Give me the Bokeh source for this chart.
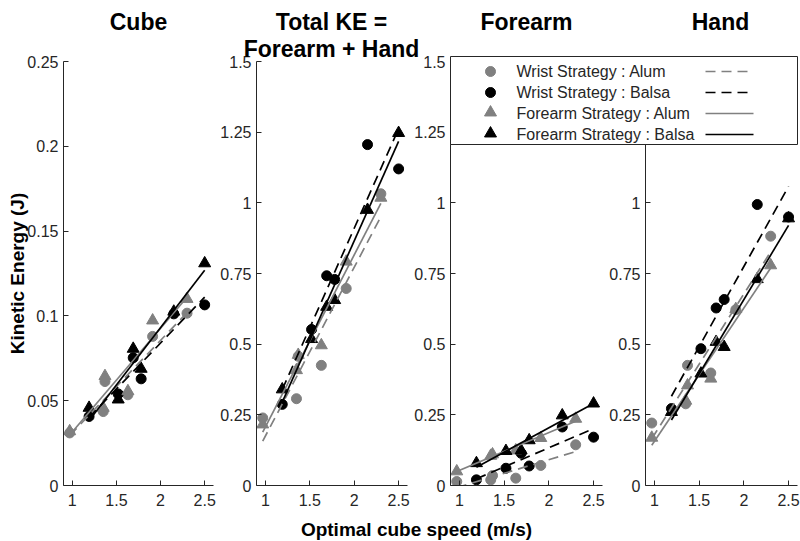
import numpy as np
from bokeh.plotting import figure
from bokeh.models import Range1d, FixedTicker, NumeralTickFormatter, GridBox
from bokeh.layouts import row
from bokeh.core.properties import value
from bokeh.embed import file_html
from bokeh.resources import INLINE

# ---------------- data ----------------
x_alum = [0.97, 1.35, 1.37, 1.63, 1.91, 2.30]
x_balsa = [1.19, 1.52, 1.69, 1.78, 2.15, 2.50]

cube_wrist_alum = [0.031, 0.0436, 0.0613, 0.0535, 0.0879, 0.1016]
cube_wrist_balsa = [0.0407, 0.0540, 0.0753, 0.0629, 0.1012, 0.1065]
cube_fore_alum = [0.032, 0.0458, 0.0645, 0.0556, 0.0973, 0.110]
cube_fore_balsa = [0.0458, 0.0507, 0.0806, 0.0688, 0.1025, 0.131]

total_wrist_alum = [0.239, 0.307, 0.457, 0.425, 0.697, 1.032]
total_wrist_balsa = [0.287, 0.552, 0.742, 0.729, 1.206, 1.120]
total_fore_alum = [0.216, 0.408, 0.462, 0.496, 0.792, 1.018]
total_fore_balsa = [0.340, 0.518, 0.632, 0.656, 0.975, 1.247]

forearm_wrist_alum = [0.014, 0.020, 0.035, 0.026, 0.071, 0.144]
forearm_wrist_balsa = [0.020, 0.061, 0.114, 0.069, 0.207, 0.171]
forearm_fore_alum = [0.050, 0.105, 0.110, 0.124, 0.168, 0.236]
forearm_fore_balsa = [0.079, 0.122, 0.124, 0.160, 0.248, 0.290]

hand_wrist_alum = [0.221, 0.289, 0.425, 0.398, 0.622, 0.882]
hand_wrist_balsa = [0.272, 0.484, 0.628, 0.658, 0.994, 0.950]
hand_fore_alum = [0.169, 0.300, 0.354, 0.378, 0.624, 0.779]
hand_fore_balsa = [0.260, 0.396, 0.508, 0.490, 0.730, 0.945]

panel_titles = [["Cube"], ["Total KE =", "Forearm + Hand"], ["Forearm"], ["Hand"]]
y_max = [0.25, 1.5, 1.5, 1.5]
y_ticks_cube = [0, 0.05, 0.1, 0.15, 0.2, 0.25]
y_ticks_ke = [0, 0.25, 0.5, 0.75, 1, 1.25, 1.5]
x_ticks = [1, 1.5, 2, 2.5]
x_limits = [0.9, 2.6]
series_labels = ["Wrist Strategy : Alum", "Wrist Strategy : Balsa",
                 "Forearm Strategy : Alum", "Forearm Strategy : Balsa"]
y_label = "Kinetic Energy (J)"
x_label = "Optimal cube speed (m/s)"

panels = [
    [cube_wrist_alum, cube_wrist_balsa, cube_fore_alum, cube_fore_balsa],
    [total_wrist_alum, total_wrist_balsa, total_fore_alum, total_fore_balsa],
    [forearm_wrist_alum, forearm_wrist_balsa, forearm_fore_alum, forearm_fore_balsa],
    [hand_wrist_alum, hand_wrist_balsa, hand_fore_alum, hand_fore_balsa],
]

# ---------------- styles ----------------
GRAY = "#808080"
BLACK = "#000000"
AX = "#262626"
FONT = "Liberation Sans"
DASH = "10 6"
series_style = [
    dict(x=x_alum, marker="circle", color=GRAY, dash="dashed"),
    dict(x=x_balsa, marker="circle", color=BLACK, dash="dashed"),
    dict(x=x_alum, marker="triangle", color=GRAY, dash="solid"),
    dict(x=x_balsa, marker="triangle", color=BLACK, dash="solid"),
]
MSIZE = {"circle": 10, "triangle": 12}

H = 540
widths = [217, 194, 195, 194]
b_left = [63, 38, 39, 37]
b_right = [4, 4, 4, 3]

figs = []
for i, data in enumerate(panels):
    p = figure(width=widths[i], height=H, x_range=Range1d(*x_limits),
               y_range=Range1d(0, y_max[i]), toolbar_location=None,
               output_backend="svg", min_border_left=b_left[i],
               min_border_right=b_right[i], min_border_top=61,
               min_border_bottom=H - 61 - 424)
    p.xgrid.visible = False
    p.ygrid.visible = False
    p.outline_line_color = None
    p.xaxis.ticker = FixedTicker(ticks=x_ticks, minor_ticks=[])
    p.yaxis.ticker = FixedTicker(ticks=y_ticks_cube if i == 0 else y_ticks_ke, minor_ticks=[])
    p.axis.formatter = NumeralTickFormatter(format="0.[00]")
    p.axis.major_tick_in = 5
    p.axis.major_tick_out = 0
    p.axis.minor_tick_in = 0
    p.axis.minor_tick_out = 0
    p.axis.axis_line_color = AX
    p.axis.major_tick_line_color = AX
    p.axis.major_label_text_color = AX
    p.axis.major_label_text_font = FONT
    p.axis.major_label_text_font_size = "16px"
    p.yaxis.major_label_standoff = 5
    p.xaxis.major_label_standoff = 8

    for ys, st in zip(data, series_style):
        p.scatter(st["x"], ys, marker=st["marker"], size=MSIZE[st["marker"]],
                  fill_color=st["color"], line_color=st["color"])
    for ys, st in zip(data, series_style):
        k, b = np.polyfit(st["x"], ys, 1)
        xs = [min(st["x"]), max(st["x"])]
        p.line(xs, [k * xv + b for xv in xs], line_color=st["color"],
               line_width=1.7, line_dash=DASH if st["dash"] == "dashed" else "solid")
    figs.append(p)

# ---------------- overlay: titles, axis labels, legend ----------------
W = sum(widths)
ov = figure(width=W, height=H, x_range=Range1d(0, W), y_range=Range1d(H, 0),
            x_axis_type=None, y_axis_type=None, toolbar_location=None,
            output_backend="svg", min_border=0)
ov.background_fill_alpha = 0
ov.border_fill_alpha = 0
ov.outline_line_color = None

title_cx = [138, 331, 526, 720]
tx, ty, tt = [], [], []
for cx, lines in zip(title_cx, panel_titles):
    for j, line in enumerate(lines):
        tx.append(cx)
        ty.append(21 + 27 * j)
        tt.append(line)
ov.text(x=tx, y=ty, text=tt, text_font=value(FONT), text_font_size="23px",
        text_font_style="bold", text_align="center", text_baseline="alphabetic",
        text_color=BLACK)
ov.text(x=[17], y=[273], text=[y_label], angle=np.pi / 2, text_font=value(FONT),
        text_font_size="19px", text_font_style="bold", text_align="center",
        text_baseline="alphabetic", text_color=BLACK)
ov.text(x=[416], y=[529], text=[x_label], text_font=value(FONT),
        text_font_size="19px", text_font_style="bold", text_align="center",
        text_baseline="alphabetic", text_color=BLACK)

# legend box
ov.quad(left=[450], right=[797], top=[56], bottom=[144], fill_color="white",
        line_color=AX, line_width=1)
rows_y = [71, 92, 113, 134]
for yy, st, lab in zip(rows_y, series_style, series_labels):
    ov.scatter([490], [yy + (-1 if st["marker"] == "triangle" else 0)], marker=st["marker"],
               size=MSIZE[st["marker"]], fill_color=st["color"], line_color=st["color"])
    ov.line([705, 753], [yy, yy], line_color=st["color"], line_width=1.7,
            line_dash=DASH if st["dash"] == "dashed" else "solid")
ov.text(x=[516] * 4, y=rows_y, text=series_labels, text_font=value(FONT),
        text_font_size="16px", text_align="left", text_baseline="middle",
        text_color=AX)

layout = GridBox(children=[(row(*figs), 0, 0), (ov, 0, 0)])

open("out.html", "w").write(file_html(layout, INLINE))
